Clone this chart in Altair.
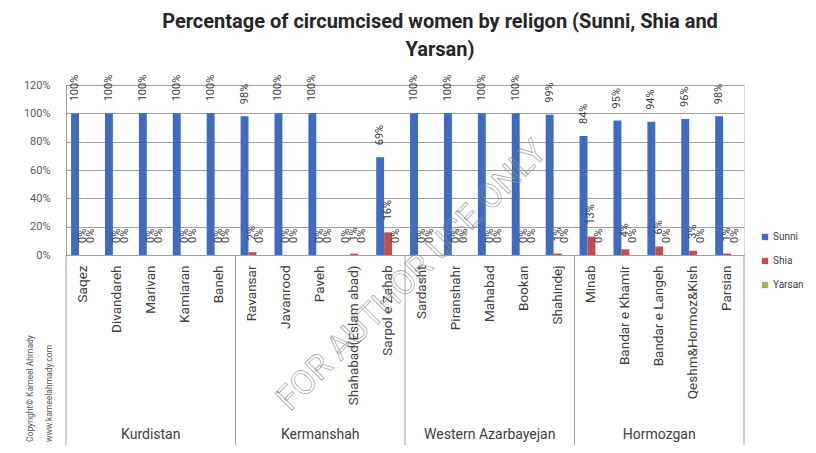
import altair as alt
import pandas as pd

cities = ["Saqez", "Divandareh", "Marivan", "Kamiaran", "Baneh",
          "Ravansar", "Javanrood", "Paveh", "Shahabad(Eslam abad)", "Sarpol e Zahab",
          "Sardasht", "Piranshahr", "Mahabad", "Bookan", "Shahindej",
          "Minab", "Bandar e Khamir", "Bandar e Langeh", "Qeshm&Hormoz&Kish", "Parsian"]
groups = ["Kurdistan", "Kermanshah", "Western Azarbayejan", "Hormozgan"]
group_sizes = [5, 5, 5, 5]
series = ["Sunni", "Shia", "Yarsan"]
sunni = [100, 100, 100, 100, 100, 98, 100, 100, 0, 69, 100, 100, 100, 100, 99, 84, 95, 94, 96, 98]
shia = [0, 0, 0, 0, 0, 2, 0, 0, 1, 16, 0, 0, 0, 0, 1, 13, 4, 6, 3, 1]
yarsan = [0, 0, 0, 0, 0, 0, 0, 0, 0, 0, 0, 0, 0, 0, 0, 0, 0, 0, 0, 0]
colors = ["#3F6CC0", "#C0504D", "#9BBB59"]
y_ticks = [0, 0.2, 0.4, 0.6, 0.8, 1.0, 1.2]

FONT = "Roboto, sans-serif"

rows = []
for i, c in enumerate(cities):
    for s, vals in zip(series, [sunni, shia, yarsan]):
        rows.append({"city": c, "series": s, "value": vals[i] / 100})
df = pd.DataFrame(rows)

bounds = [0]
for g in group_sizes:
    bounds.append(bounds[-1] + g)
grp_df = pd.DataFrame({"name": groups,
                       "mid": [(bounds[i] + bounds[i + 1]) / 2 for i in range(len(groups))]})
bnd_df = pd.DataFrame({"pos": bounds})

H = 170
W = 678

x_axis = alt.Axis(labelAngle=-90, labelFontSize=13.5, labelColor="#404040", labelFont=FONT,
                  ticks=False, domain=True, domainColor="#a0a0a0", labelPadding=10,
                  labelLimit=200, grid=False, labelOverlap=False)
x_enc = alt.X("city:N", sort=cities, title=None,
              scale=alt.Scale(paddingInner=0.3, paddingOuter=0.15), axis=x_axis)
xo = alt.XOffset("series:N", sort=series, scale=alt.Scale(paddingInner=0, paddingOuter=0))
y_axis = alt.Axis(values=y_ticks, format=".0%", labelFontSize=11, labelColor="#595959",
                  labelFont=FONT, ticks=False, labelPadding=16, domain=True, labelOverlap=False,
                  domainColor="#a0a0a0", grid=True, gridColor="#a0a0a0", gridWidth=1)
y_enc = alt.Y("value:Q", title=None, scale=alt.Scale(domain=[0, 1.2], nice=False), axis=y_axis)
color_enc = alt.Color("series:N", sort=series, title=None,
                      scale=alt.Scale(domain=series, range=colors),
                      legend=alt.Legend(orient="none", legendX=694, legendY=147, symbolType="square",
                                        symbolSize=40, symbolStrokeWidth=0, labelFontSize=10,
                                        labelOffset=3, labelColor="#404040", labelFont=FONT,
                                        rowPadding=14))

bars = alt.Chart(df).mark_bar().encode(x=x_enc, xOffset=xo, y=y_enc, color=color_enc)

labels = alt.Chart(df).mark_text(angle=270, align="left", baseline="middle", dx=12,
                                 fontSize=11, font=FONT, color="#404040").encode(
    x=x_enc, xOffset=xo, y=y_enc,
    text=alt.Text("value:Q", format=".0%"))

main = alt.layer(bars, labels)

qscale = alt.Scale(domain=[0, 20], nice=False, zero=False)
rules = alt.Chart(bnd_df).mark_rule(color="#a0a0a0", strokeWidth=1).encode(
    x=alt.X("pos:Q", scale=qscale, axis=None, title=None),
    y=alt.value(H), y2=alt.value(H + 200))
glabels = alt.Chart(grp_df).mark_text(fontSize=14, font=FONT, color="#404040").encode(
    x=alt.X("mid:Q", scale=qscale, axis=None, title=None),
    y=alt.value(H + 180), text="name:N")

copy_df = pd.DataFrame({"t": ["Copyright\u00a9 Kameel Ahmady"]})
copy1 = alt.Chart(copy_df).mark_text(angle=270, align="left", baseline="middle", fontSize=8.5,
                                     font=FONT, color="#595959").encode(
    x=alt.value(-36), y=alt.value(H + 187), text="t:N")
copy_df2 = pd.DataFrame({"t": ["www.kameelahmady.com"]})
copy2 = alt.Chart(copy_df2).mark_text(angle=270, align="left", baseline="middle", fontSize=8.5,
                                      font=FONT, color="#595959").encode(
    x=alt.value(-17), y=alt.value(H + 187), text="t:N")

wm_df = pd.DataFrame({"t": ["FOR AUTHOR USE ONLY"]})
wm = alt.Chart(wm_df).mark_text(angle=315, fontSize=34, font=FONT, fontWeight="normal",
                                fill="#ffffff", fillOpacity=0, stroke="#909090", strokeWidth=0.6).encode(
    x=alt.value(346), y=alt.value(191), text="t:N")

chart = alt.layer(main, rules, glabels, copy1, copy2, wm).resolve_scale(x="independent").properties(
    width=W, height=H,
    autosize=alt.AutoSizeParams(type="none"),
    padding={"left": 58, "top": 77, "right": 64, "bottom": 190},
    title=alt.TitleParams(text=["Percentage of circumcised women by religon (Sunni, Shia and", "Yarsan)"],
                          fontSize=20, font=FONT, fontWeight="bold", color="#262626",
                          anchor="middle", dx=35, offset=15, lineHeight=28)
).configure_view(fill="#efefef", stroke=None).configure(background="white")

chart.save("out.html", embed_options={"renderer": "svg", "actions": False})
